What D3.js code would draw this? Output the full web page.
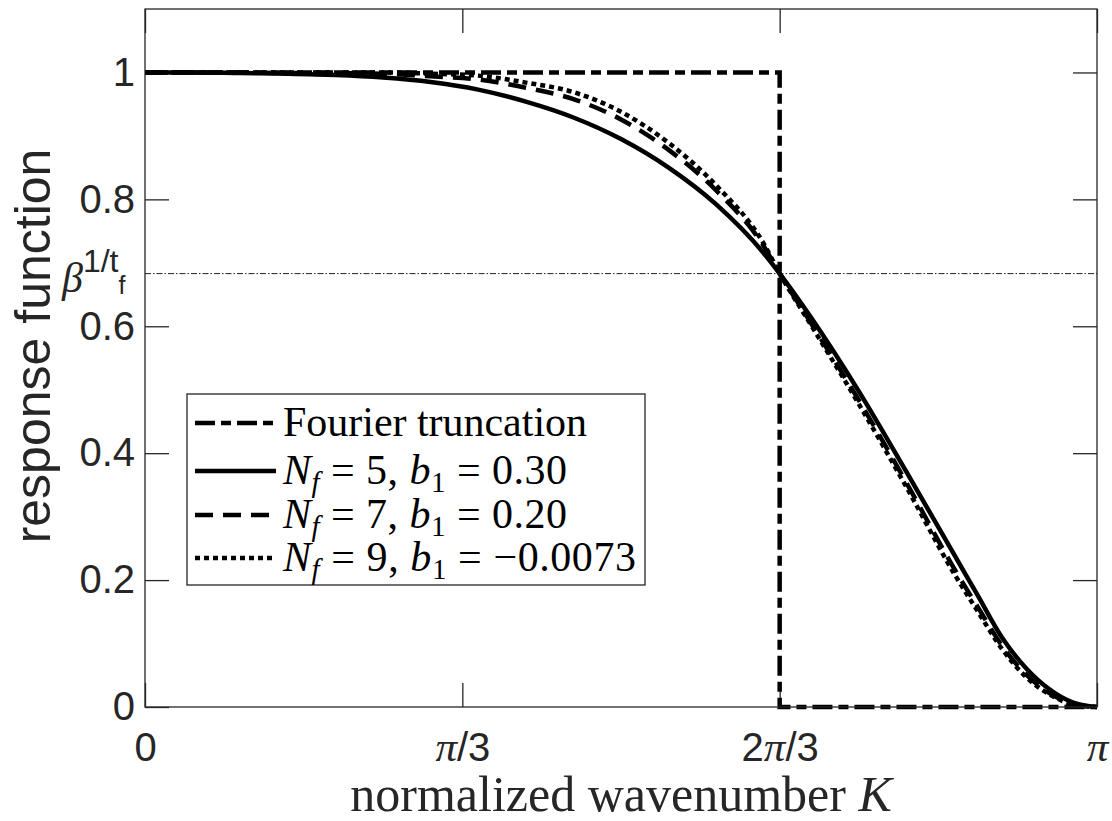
<!DOCTYPE html>
<html>
  <head>
    <script type="text/javascript" src="https://d3js.org/d3.v7.min.js"></script>
    <style>
      body { margin: 0; background: #fff; }
    </style>
  </head>
  <body>
  </body>
  <script>

  // K / pi, sampled along the curves
  var kFrac = [0, 0.05, 0.1, 0.15, 0.2, 0.25, 0.3, 0.35, 0.4, 0.45, 0.5, 0.55, 0.6, 0.65, 0.6667,
               0.7, 0.75, 0.8, 0.85, 0.875, 0.9, 0.925, 0.95, 0.975, 1];

  var nf5 = [1.000, 1.000, 0.999, 0.998, 0.996, 0.992, 0.985, 0.973, 0.954, 0.929, 0.895, 0.850, 0.792, 0.715, 0.683,
             0.613, 0.497, 0.370, 0.240, 0.175, 0.110, 0.062, 0.028, 0.007, 0];
  var nf7 = [1.000, 1.000, 1.000, 0.999, 0.999, 0.998, 0.994, 0.989, 0.976, 0.958, 0.926, 0.878, 0.814, 0.726, 0.683,
             0.604, 0.483, 0.353, 0.218, 0.157, 0.097, 0.052, 0.022, 0.005, 0];
  var nf9 = [1.000, 1.000, 1.000, 1.000, 1.000, 1.000, 0.998, 0.995, 0.984, 0.969, 0.938, 0.889, 0.822, 0.730, 0.683,
             0.601, 0.477, 0.346, 0.210, 0.150, 0.092, 0.048, 0.020, 0.004, 0];

  // Fourier truncation: step at K = 2pi/3
  var fourierK = [0, 2 / 3, 2 / 3, 1];
  var fourierV = [1, 1, 0, 0];

  var betaLevel = 0.683;

  var xTickVals = [0, 1 / 3, 2 / 3, 1];
  var xTickLabels = ["0", "π/3", "2π/3", "π"];
  var yTickVals = [0, 0.2, 0.4, 0.6, 0.8, 1];
  var yTickLabels = ["0", "0.2", "0.4", "0.6", "0.8", "1"];

  var legendLabels = [
    [{t: "Fourier truncation"}],
    [{t: "N", i: 1}, {t: "f", i: 1, sub: 1}, {t: " = 5, "}, {t: "b", i: 1}, {t: "1", sub: 1}, {t: " = 0.30"}],
    [{t: "N", i: 1}, {t: "f", i: 1, sub: 1}, {t: " = 7, "}, {t: "b", i: 1}, {t: "1", sub: 1}, {t: " = 0.20"}],
    [{t: "N", i: 1}, {t: "f", i: 1, sub: 1}, {t: " = 9, "}, {t: "b", i: 1}, {t: "1", sub: 1}, {t: " = \u22120.0073"}]
  ];
  var legendWidths = [304, 284, 284, 353];
  var dashes = ["20,6,10,6", null, "18,10", "5,4"];

  var W = 1112, H = 821;
  var pl = 145, pr = 1097, pt = 9, pb = 707;
  var axisColor = "#262626";
  var sans = "'Liberation Sans', Arial, sans-serif";
  var serif = "'Liberation Serif', 'Times New Roman', serif";

  var svg = d3.select("body").append("svg")
              .attr("width", W)
              .attr("height", H);

  var x = d3.scaleLinear().domain([0, Math.PI]).range([pl, pr]);
  var y = d3.scaleLinear().domain([0, 1.1]).range([pb, pt]);

  svg.append("clipPath").attr("id", "clip")
     .append("rect").attr("x", pl).attr("y", pt)
     .attr("width", pr - pl).attr("height", pb - pt + 4);

  // axes
  var xAxis = d3.axisBottom(x)
                .tickValues(xTickVals.map(function(d) { return d * Math.PI; }))
                .tickSizeInner(-24).tickSizeOuter(0).tickPadding(26)
                .tickFormat(function(d, i) { return xTickLabels[i]; });
  var xTop = d3.axisTop(x)
               .tickValues(xTickVals.map(function(d) { return d * Math.PI; }))
               .tickSizeInner(-24).tickSizeOuter(0).tickFormat("");
  var yAxis = d3.axisLeft(y).tickValues(yTickVals)
                .tickSizeInner(-24).tickSizeOuter(0).tickPadding(10)
                .tickFormat(function(d, i) { return yTickLabels[i]; });
  var yRight = d3.axisRight(y).tickValues(yTickVals)
                 .tickSizeInner(-24).tickSizeOuter(0).tickFormat("");

  var gx = svg.append("g").attr("transform", "translate(0," + pb + ")").call(xAxis);
  svg.append("g").attr("transform", "translate(0," + pt + ")").call(xTop);
  var gy = svg.append("g").attr("transform", "translate(" + pl + ",0)").call(yAxis);
  svg.append("g").attr("transform", "translate(" + pr + ",0)").call(yRight);

  svg.selectAll(".domain").remove();
  svg.selectAll(".tick line").attr("stroke", axisColor).attr("stroke-width", 1.3);
  svg.selectAll(".tick text").attr("fill", axisColor).style("font-family", sans).style("font-size", "40px");

  // pi in the x tick labels as math italic
  gx.selectAll(".tick text").each(function(d, i) {
    var lab = xTickLabels[i];
    var t = d3.select(this).text(null);
    lab.split(/(π)/).forEach(function(part) {
      if (part === "") return;
      var s = t.append("tspan").text(part);
      if (part === "π") s.style("font-family", serif).style("font-style", "italic").style("font-size", "43px");
    });
  });

  // reference level
  svg.append("line")
     .attr("x1", pl).attr("x2", pr)
     .attr("y1", y(betaLevel)).attr("y2", y(betaLevel))
     .attr("stroke", "#222").attr("stroke-width", 1)
     .attr("stroke-dasharray", "6,2,1.5,2");

  // curves
  var line = d3.line()
               .x(function(d) { return x(d[0] * Math.PI); })
               .y(function(d) { return y(d[1]); });
  var smooth = d3.line()
               .x(function(d) { return x(d[0] * Math.PI); })
               .y(function(d) { return y(d[1]); })
               .curve(d3.curveMonotoneX);

  var series = [
    {pts: d3.zip(fourierK, fourierV), gen: line},
    {pts: d3.zip(kFrac, nf5), gen: smooth},
    {pts: d3.zip(kFrac, nf7), gen: smooth},
    {pts: d3.zip(kFrac, nf9), gen: smooth}
  ];

  var plot = svg.append("g").attr("clip-path", "url(#clip)");
  series.forEach(function(s, i) {
    plot.append("path")
        .attr("d", s.gen(s.pts))
        .attr("fill", "none")
        .attr("stroke", "#000")
        .attr("stroke-width", 4.5)
        .attr("stroke-dasharray", dashes[i]);
  });

  // box
  svg.append("rect")
     .attr("x", pl).attr("y", pt)
     .attr("width", pr - pl).attr("height", pb - pt)
     .attr("fill", "none").attr("stroke", axisColor).attr("stroke-width", 1.3);

  // beta^(1/t_f) label
  var beta = svg.append("text").attr("x", 62).attr("y", 292).attr("fill", axisColor);
  beta.append("tspan").text("β").style("font-family", serif).style("font-style", "italic").style("font-size", "42px");
  beta.append("tspan").text("1/t").attr("dy", -20).style("font-family", sans).style("font-size", "32px");
  beta.append("tspan").text("f").attr("dy", 22).style("font-family", sans).style("font-size", "25px");

  // axis titles
  svg.append("text")
     .attr("transform", "translate(50,346) rotate(-90)")
     .attr("text-anchor", "middle")
     .attr("fill", axisColor)
     .style("font-family", sans).style("font-size", "50px")
     .text("response function");

  var xt = svg.append("text")
     .attr("x", (pl + pr) / 2).attr("y", 811)
     .attr("text-anchor", "middle")
     .attr("fill", axisColor)
     .style("font-family", serif).style("font-size", "50px");
  xt.append("tspan").text("normalized wavenumber ");
  xt.append("tspan").text("K").style("font-style", "italic");

  // legend
  var lg = svg.append("g");
  lg.append("rect")
    .attr("x", 187).attr("y", 394).attr("width", 458).attr("height", 191)
    .attr("fill", "#fff").attr("stroke", axisColor).attr("stroke-width", 1.3);

  var rowY = [423, 471, 515, 558];
  legendLabels.forEach(function(parts, i) {
    lg.append("line")
      .attr("x1", 195).attr("x2", 276)
      .attr("y1", rowY[i]).attr("y2", rowY[i])
      .attr("stroke", "#000").attr("stroke-width", 4.5)
      .attr("stroke-dasharray", dashes[i]);
    var t = lg.append("text").attr("x", 283).attr("y", rowY[i] + 13)
              .attr("fill", "#000")
              .attr("textLength", legendWidths[i])
              .attr("lengthAdjust", "spacing")
              .style("font-family", serif).style("font-size", "42px")
              .style("white-space", "pre");
    var shifted = false;
    parts.forEach(function(p) {
      var s = t.append("tspan").text(p.t);
      if (p.i) s.style("font-style", "italic");
      if (p.sub) { s.attr("dy", 8).style("font-size", "29px"); shifted = true; }
      else if (shifted) { s.attr("dy", -8); shifted = false; }
    });
  });

  </script>
</html>
